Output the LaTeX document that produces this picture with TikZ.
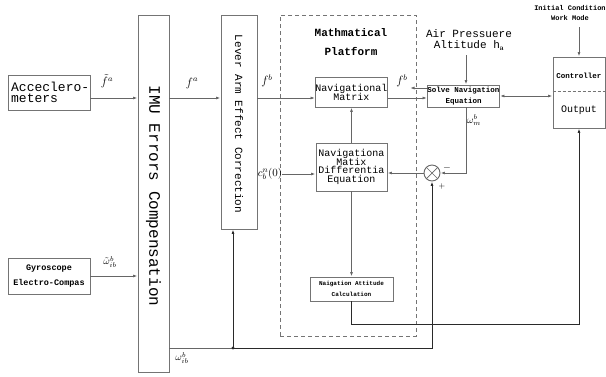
\documentclass[tikz,border=0pt]{standalone}
\usepackage{fontspec}
\newfontfamily\mono{Liberation Mono}
\usetikzlibrary{arrows.meta}
\definecolor{boxgray}{HTML}{747474}
\definecolor{linegray}{HTML}{666666}
\definecolor{darkline}{HTML}{2A2A2A}
\newcommand{\fs}[1]{\fontsize{#1}{#1}\selectfont}
\begin{document}
\begin{tikzpicture}[x=1pt,y=-1pt]
\tikzset{
 box/.style={draw=boxgray, line width=0.9pt, rectangle, inner sep=0pt, align=center},
 ln/.style={draw=linegray, line width=0.9pt},
 dk/.style={draw=darkline, line width=0.9pt},
 arr/.style={-{Latex[length=4.5pt,width=3pt]}},
 dblarr/.style={{Latex[length=4.5pt,width=3pt]}-{Latex[length=4.5pt,width=3pt]}},
 lbl/.style={inner sep=0pt, align=center},
}
\useasboundingbox (0,0) rectangle (606,376);

% boxes
\node[box, minimum width=82pt, minimum height=35pt] (acc) at (49,92.5) {};
\node[lbl, align=left, anchor=west, font=\mono\fs{13}] (acctext) at (11,92.5) {Acceclero-\\[-2pt]meters};
\node[box, minimum width=82pt, minimum height=36pt, font=\mono\bfseries\fs{8.5}] (gyro) at (49,276) {Gyroscope\\[7pt]Electro-Compas};
\node[box, minimum width=31pt, minimum height=357pt] (imu) at (153.5,193.5) {};
\node[lbl, rotate=-90, font=\mono\fs{16}] (imutext) at (153.5,196) {IMU Errors Compensation};
\node[box, minimum width=36pt, minimum height=214pt] (lever) at (239,122) {};
\node[lbl, rotate=-90, font=\mono\fs{11}] (levertext) at (239,124) {Lever Arm Effect Correction};
\node[draw=boxgray, line width=0.9pt, dash pattern=on 4pt off 3pt, minimum width=136pt, minimum height=321pt, inner sep=0pt] (plat) at (348,175.5) {};
\node[lbl, font=\mono\bfseries\fs{11}] (plattext) at (351,42.5) {Mathmatical\\[8pt]Platform};
\node[box, minimum width=71pt, minimum height=30pt, font=\mono\fs{10}] (navm) at (351.5,92) {Navigational\\[-1pt]Matrix};
\node[box, minimum width=71pt, minimum height=48pt, font=\mono\fs{10}] (nmd) at (351.5,167) {Navigationa\\[-1.5pt]Matix\\[-1.5pt]Differentia\\[-1.5pt]Equation};
\node[box, minimum width=83pt, minimum height=24pt, font=\mono\bfseries\fs{6}] (nac) at (351.5,289) {Naigation Attitude\\[5pt]Calculation};
\node[box, minimum width=71pt, minimum height=22pt, font=\mono\bfseries\fs{7.5}] (solve) at (463.5,96) {Solve Navigation\\[3pt]Equation};
\node[box, minimum width=52pt, minimum height=71pt] (ctl) at (579,92.5) {};
\node[lbl, font=\mono\bfseries\fs{7.5}] (ctltext) at (579,76) {Controller};
\node[lbl, font=\mono\fs{10}] (outtext) at (579,110) {Output};
\draw[boxgray, line width=0.9pt, dash pattern=on 3pt off 2pt] (ctl.west |- 0,91) -- (ctl.east |- 0,91);
\node[draw=linegray, line width=0.9pt, circle, minimum size=16pt, inner sep=0pt] (sum) at (432,173) {};
\draw[linegray, line width=0.7pt] (sum.north west) -- (sum.south east) (sum.north east) -- (sum.south west);

% free texts
\node[lbl, font=\mono\fs{11}] (air) at (469,40) {Air Pressuere\\[0pt]Altitude h$_{\mathbf{a}}$};
\node[lbl, font=\mono\bfseries\fs{7}] (init) at (570,13) {Initial Condition\\[3pt]Work Mode};

% math labels
\node[lbl, font=\fs{12}] (fta) at (107,81) {$\tilde{f}^{a}$};
\node[lbl, font=\fs{12}] (fa) at (192,83) {$f^{a}$};
\node[lbl, font=\fs{12}] (fb) at (267,81) {$f^{b}$};
\node[lbl, font=\fs{12}] (fb2) at (402,81) {$f^{b}$};
\node[lbl, font=\fs{11}] (cbn) at (270,174) {$c_{b}^{n}(0)$};
\node[lbl, font=\fs{10}] (wtil) at (110,262) {$\tilde{\omega}_{ib}^{b}$};
\node[lbl, font=\fs{10}] (wm) at (474,120) {$\omega_{m}^{b}$};
\node[lbl, font=\fs{10}] (wib) at (182,358) {$\omega_{ib}^{b}$};
\node[lbl, font=\fs{10}] (minus) at (447,168) {$-$};
\node[lbl, font=\fs{8}] (plus) at (442,186) {$+$};

% coordinates
\coordinate (rowF) at (0,98);
\coordinate (rowCtl) at (0,96);
\coordinate (rowW) at (0,348);
\coordinate (fbtip) at (410,88);
\coordinate (airbot) at (466,55);
\coordinate (initbot) at (579,27);
\coordinate (jn) at (233,348);

% connectors
\draw[ln,arr] (acc.east |- rowF) -- (imu.west |- rowF);
\draw[ln,arr] (gyro.east) -- (imu.west |- gyro.east);
\draw[ln,arr] (imu.east |- rowF) -- (lever.west |- rowF);
\draw[ln,arr] (lever.east |- rowF) -- (navm.west |- rowF);
\draw[ln,arr] (navm.east |- rowF) -- (solve.west |- rowF);
\draw[ln,arr] (solve.west |- fbtip) -- (fbtip);
\draw[ln,dblarr] (solve.east |- rowCtl) -- (ctl.west |- rowCtl);
\draw[ln,arr] (airbot) -- (airbot |- solve.north);
\draw[ln,arr] (initbot) -- (ctl.north);
\draw[ln,arr] (solve.south -| airbot) |- (sum.east);
\draw[ln,arr] (sum.west) -- (nmd.east |- sum.west);
\draw[ln,arr] (cbn.east) -- (nmd.west |- cbn.east);
\draw[ln,arr] (nmd.north) -- (navm.south);
\draw[ln,arr] (nmd.south) -- (nac.north);
\draw[dk,arr] (nac.south) -- ++(0,23) -| (ctl.south);
\draw[ln] (imu.east |- rowW) -- (jn);
\draw[dk,arr] (jn) -| (sum.south);
\fill[darkline] (jn) circle[radius=1.6pt];
\draw[dk,arr] (jn) -- (jn |- lever.south);
\end{tikzpicture}
\end{document}
